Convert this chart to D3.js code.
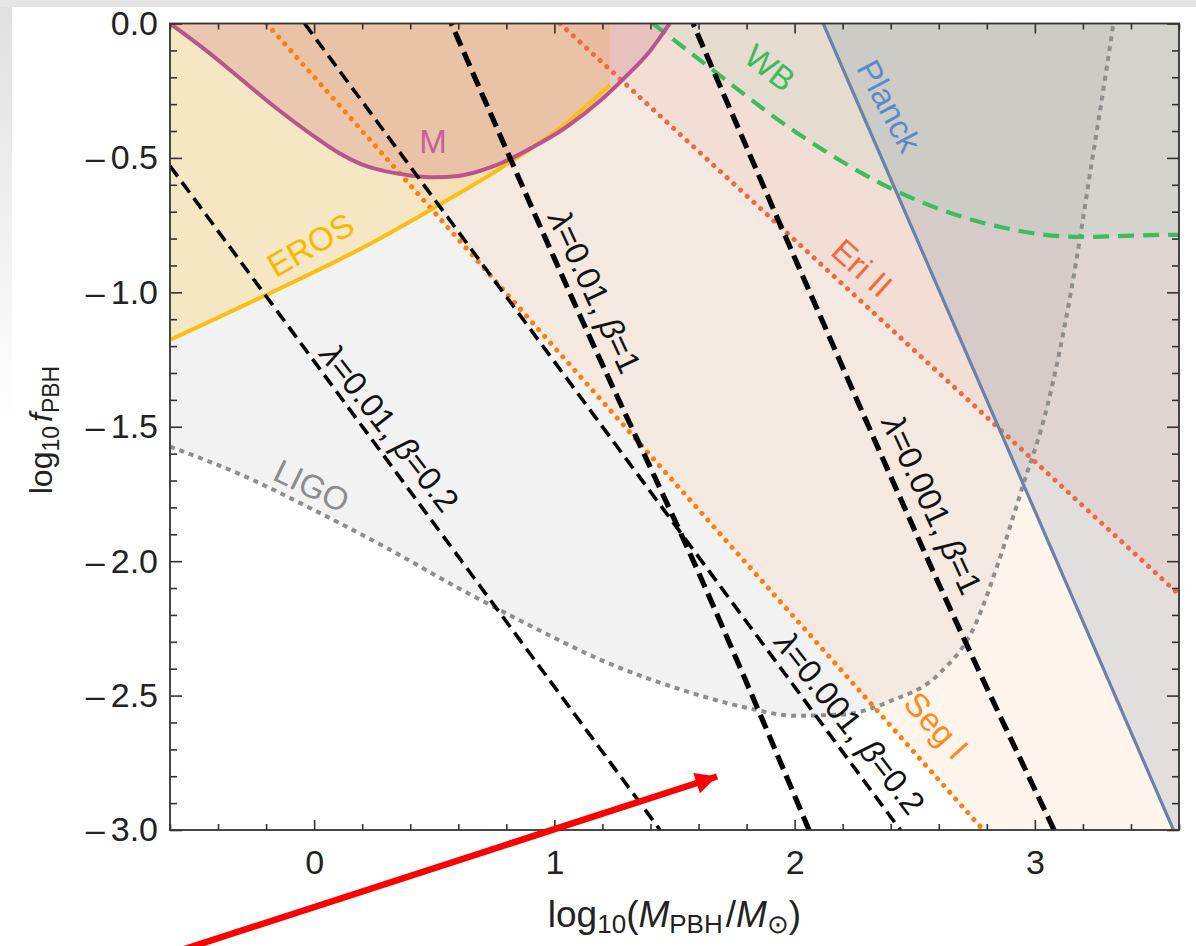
<!DOCTYPE html>
<html>
<head>
<meta charset="utf-8">
<script src="https://cdn.jsdelivr.net/npm/d3@7"></script>
<style>
body { margin: 0; background: #fff; }
svg { display: block; }
text { font-family: "Liberation Sans", Arial, sans-serif; }
</style>
</head>
<body>
<script>
// constraint curves, [log10 M, log10 f]
var mCurve = [[-0.6, 0], [-0.45, -0.10], [-0.3, -0.21], [-0.15, -0.32], [0.0, -0.42],
  [0.1, -0.48], [0.2, -0.525], [0.3, -0.55], [0.4, -0.565], [0.5, -0.572], [0.6, -0.567],
  [0.75, -0.53], [0.9, -0.465], [1.05, -0.385], [1.2, -0.28], [1.3, -0.195], [1.4, -0.1],
  [1.48, 0]];
var erosCurve = [[-0.6, -1.177], [-0.2, -1.01], [0.2, -0.835], [0.5, -0.685],
  [0.8, -0.525], [1.05, -0.37], [1.231, -0.229]];
var ligoCurve = [[-0.6, -1.574], [-0.3, -1.68], [0.0, -1.81], [0.3, -1.95], [0.6, -2.10],
  [0.9, -2.24], [1.2, -2.37], [1.5, -2.47], [1.8, -2.545], [2.0, -2.575], [2.2, -2.57],
  [2.4, -2.52], [2.6, -2.42], [2.75, -2.24], [2.85, -2.0], [2.95, -1.72], [3.05, -1.43],
  [3.15, -1.0], [3.24, -0.5], [3.3, -0.16], [3.327, 0]];
var wbCurve = [[1.41, 0], [1.606, -0.136], [2.01, -0.407], [2.44, -0.63], [2.856, -0.757],
  [3.19, -0.794], [3.565, -0.786], [3.6, -0.786]];
var segLine = [[-0.198, 0], [2.785, -3]];
var eriLine = [[1.023, 0], [3.6, -2.124]];
var planckLine = [[2.119, 0], [3.577, -3]];

// lambda/beta benchmark lines
var lam01b02 = [[-0.6, -0.53], [1.44, -3]];
var lam001b02 = [[-0.04, 0], [2.44, -3]];
var lam01b1 = [[0.571, 0], [1.077, -1.028], [1.65, -2.143], [2.06, -3]];
var lam001b1 = [[1.577, 0], [2.077, -1.028], [2.63, -2.143], [3.08, -3]];

var xMajor = [0, 1, 2, 3];
var yMajor = [0, -0.5, -1, -1.5, -2, -2.5, -3];

var arrowPts = [[-0.685, -3.485], [1.677, -2.801]];

var W = 1196, H = 946;
var svg = d3.select("body").append("svg").attr("width", W).attr("height", H);
var defs = svg.append("defs");

var x = d3.scaleLinear().domain([-0.6, 3.6]).range([170, 1179]);
var y = d3.scaleLinear().domain([-3, 0]).range([830, 23.5]);

// grey screenshot edge
var lg = defs.append("linearGradient").attr("id", "edge")
  .attr("x1", 0).attr("y1", 0).attr("x2", 0).attr("y2", 1);
lg.append("stop").attr("offset", "0%").attr("stop-color", "#e0e0e0");
lg.append("stop").attr("offset", "45%").attr("stop-color", "#ffffff");
svg.append("rect").attr("width", W).attr("height", H).attr("fill", "#fff");
svg.append("rect").attr("width", 12).attr("height", H).attr("fill", "url(#edge)");
svg.append("rect").attr("width", W).attr("height", 7).attr("fill", "#e5e5e5");

defs.append("clipPath").attr("id", "plot").append("rect")
  .attr("x", x(-0.6)).attr("y", y(0))
  .attr("width", x(3.6) - x(-0.6)).attr("height", y(-3) - y(0));

var line = d3.line().x(d => x(d[0])).y(d => y(d[1]));
var smooth = d3.line().x(d => x(d[0])).y(d => y(d[1])).curve(d3.curveMonotoneX);

var g = svg.append("g").attr("clip-path", "url(#plot)");

function P(a, b) { return "L" + x(a) + "," + y(b); }

// filled exclusion regions
g.append("path").attr("d", smooth(ligoCurve) + P(-0.6, 0) + "Z")
  .style("fill", "#7f7f7f").style("fill-opacity", 0.1);
g.append("path").attr("d", line(segLine) + P(3.8, -3) + P(3.8, 0) + "Z")
  .style("fill", "#ff7f0e").style("fill-opacity", 0.08);
g.append("path").attr("d", line(eriLine) + P(3.8, -2.124) + P(3.8, 0) + "Z")
  .style("fill", "#f0826e").style("fill-opacity", 0.1);
g.append("path").attr("d", line(planckLine) + P(3.8, -3) + P(3.8, 0) + "Z")
  .style("fill", "#6478a0").style("fill-opacity", 0.19);
g.append("path").attr("d", smooth(wbCurve) + P(3.8, -0.786) + P(3.8, 0) + "Z")
  .style("fill", "#7acba3").style("fill-opacity", 0.1);
g.append("path").attr("d", smooth(erosCurve) + P(1.231, 0) + P(-0.6, 0) + "Z")
  .style("fill", "#ffbe2a").style("fill-opacity", 0.23);
g.append("path").attr("d", smooth(mCurve) + "Z")
  .style("fill", "#be5064").style("fill-opacity", 0.2);

// boundary lines
g.append("path").attr("d", smooth(ligoCurve))
  .style("fill", "none").style("stroke", "#8e8e8e").style("stroke-width", 4)
  .style("stroke-dasharray", "5 5");
g.append("path").attr("d", line(segLine))
  .style("fill", "none").style("stroke", "#ff7f0e").style("stroke-width", 5)
  .style("stroke-linecap", "round").style("stroke-dasharray", "0.1 9");
g.append("path").attr("d", line(eriLine))
  .style("fill", "none").style("stroke", "#ee6a40").style("stroke-width", 5)
  .style("stroke-linecap", "round").style("stroke-dasharray", "0.1 9");
g.append("path").attr("d", line(planckLine))
  .style("fill", "none").style("stroke", "#6a81aa").style("stroke-width", 3.2);
g.append("path").attr("d", smooth(wbCurve))
  .style("fill", "none").style("stroke", "#3dbb5f").style("stroke-width", 4.2)
  .style("stroke-dasharray", "16 9");
g.append("path").attr("d", smooth(erosCurve))
  .style("fill", "none").style("stroke", "#fbbf14").style("stroke-width", 4);
g.append("path").attr("d", smooth(mCurve))
  .style("fill", "none").style("stroke", "#b9558c").style("stroke-width", 4);

[lam01b02, lam001b02].forEach(function (d) {
  g.append("path").attr("d", line(d))
    .style("fill", "none").style("stroke", "#000").style("stroke-width", 3.6)
    .style("stroke-dasharray", "13 7");
});
[lam01b1, lam001b1].forEach(function (d) {
  g.append("path").attr("d", smooth(d.slice().reverse()))
    .style("fill", "none").style("stroke", "#000").style("stroke-width", 5.2)
    .style("stroke-dasharray", "15 7");
});

// curve labels
var labels = [
  { t: "EROS", at: [-0.015, -0.823], r: -30, c: "#f7b800" },
  { t: "M", at: [0.495, -0.437], r: 0, c: "#c2629c" },
  { t: "LIGO", at: [-0.01, -1.72], r: 26, c: "#8c8c8c" },
  { t: "WB", at: [1.898, -0.165], r: 38, c: "#3dba5c" },
  { t: "Planck", at: [2.394, -0.307], r: 62, c: "#5f88c8" },
  { t: "Eri II", at: [2.281, -0.909], r: 42, c: "#ef6a3c" },
  { t: "Seg I", at: [2.59, -2.611], r: 48, c: "#ff8a1a" },
  { t: "λ=0.01, β=0.2", at: [0.315, -1.504], r: 52, c: "#111" },
  { t: "λ=0.01, β=1", at: [1.169, -0.998], r: 65, c: "#111" },
  { t: "λ=0.001, β=1", at: [2.573, -1.79], r: 65, c: "#111" },
  { t: "λ=0.001, β=0.2", at: [2.231, -2.602], r: 52, c: "#111" }
];
labels.forEach(function (l) {
  var tx = svg.append("text")
    .attr("transform", "translate(" + x(l.at[0]) + "," + y(l.at[1]) + ") rotate(" + l.r + ")")
    .attr("text-anchor", "middle").attr("dy", "0.35em")
    .style("font-size", "33px").style("fill", l.c);
  l.t.split(/([λβ])/).filter(s => s.length).forEach(function (s) {
    var sp = tx.append("tspan").text(s);
    if (s === "λ" || s === "β") sp.style("font-style", "italic");
  });
});

// axes, ticks inward on all four sides
function minorOf(step, lo, hi, major) {
  var out = [];
  for (var i = Math.round(lo / step); i <= Math.round(hi / step); i++) {
    var v = +(i * step).toFixed(6);
    if (Math.abs(v / major - Math.round(v / major)) > 1e-6) out.push(v);
  }
  return out;
}
var xMinor = minorOf(0.2, -0.6, 3.6, 1);
var yMinor = minorOf(0.1, -3, 0, 0.5);

function axis(gen, tr, vals, size, fmt, pad) {
  var a = svg.append("g").attr("transform", tr)
    .call(gen.tickValues(vals).tickSize(size).tickSizeOuter(0).tickPadding(pad || 3)
      .tickFormat(fmt || ""));
  a.select(".domain").remove();
  a.selectAll("line").style("stroke", "#333").style("stroke-width", 1.6);
  a.selectAll("text").style("font-size", "34px").style("fill", "#222")
    .style("font-family", "'Liberation Sans', Arial, sans-serif");
  return a;
}
axis(d3.axisBottom(x), "translate(0," + y(-3) + ")", xMajor, -10, d3.format("d"), 20);
axis(d3.axisBottom(x), "translate(0," + y(-3) + ")", xMinor, -6);
axis(d3.axisTop(x), "translate(0," + y(0) + ")", xMajor, -10);
axis(d3.axisTop(x), "translate(0," + y(0) + ")", xMinor, -6);
var yl = axis(d3.axisLeft(y), "translate(" + x(-0.6) + ",0)", yMajor, -12, d => "", 12);
// y tick labels: dash, small gap, then the number
yl.selectAll(".tick text").each(function (d) {
  var t = d3.select(this);
  if (Math.abs(d) < 1e-9) { t.text("0.0"); return; }
  t.append("tspan").text("\u2013");
  t.append("tspan").attr("dx", 6).text(d3.format(".1f")(-d));
});
axis(d3.axisLeft(y), "translate(" + x(-0.6) + ",0)", yMinor, -7);
axis(d3.axisRight(y), "translate(" + x(3.6) + ",0)", yMajor, -12);
axis(d3.axisRight(y), "translate(" + x(3.6) + ",0)", yMinor, -7);

svg.append("rect").attr("x", x(-0.6)).attr("y", y(0))
  .attr("width", x(3.6) - x(-0.6)).attr("height", y(-3) - y(0))
  .style("fill", "none").style("stroke", "#333").style("stroke-width", 1.8);

// axis titles
var xt = svg.append("text").attr("x", (x(-0.6) + x(3.6)) / 2).attr("y", 927)
  .attr("text-anchor", "middle").style("font-size", "37px").style("fill", "#222");
xt.append("tspan").text("log");
xt.append("tspan").attr("dy", 6).style("font-size", "26px").text("10");
xt.append("tspan").attr("dy", -6).text("(");
xt.append("tspan").style("font-style", "italic").text("M");
xt.append("tspan").attr("dy", 6).style("font-size", "26px").text("PBH");
xt.append("tspan").attr("dy", -6).attr("dx", 3).text("/");
xt.append("tspan").style("font-style", "italic").text("M");
xt.append("tspan").attr("dy", 6).style("font-size", "26px").text("\u2299");
xt.append("tspan").attr("dy", -6).text(")");

var yt = svg.append("text").attr("transform", "translate(52,430) rotate(-90)")
  .attr("text-anchor", "middle").style("font-size", "32px").style("fill", "#222");
yt.append("tspan").text("log");
yt.append("tspan").attr("dy", 7).style("font-size", "23px").text("10");
yt.append("tspan").attr("dy", -7).attr("dx", 4).style("font-style", "italic").text("f");
yt.append("tspan").attr("dy", 7).style("font-size", "23px").text("PBH");

// red annotation arrow
defs.append("marker").attr("id", "head").attr("viewBox", "0 0 10 10")
  .attr("refX", 10).attr("refY", 5).attr("markerWidth", 5).attr("markerHeight", 3.3)
  .attr("markerUnits", "strokeWidth").attr("orient", "auto")
  .append("path").attr("d", "M0,0L10,5L0,10Z").style("fill", "#ff0000");
svg.append("path").attr("d", line(arrowPts))
  .style("stroke", "#ff0000").style("stroke-width", 6.5).style("fill", "none")
  .attr("marker-end", "url(#head)");
</script>
</body>
</html>
